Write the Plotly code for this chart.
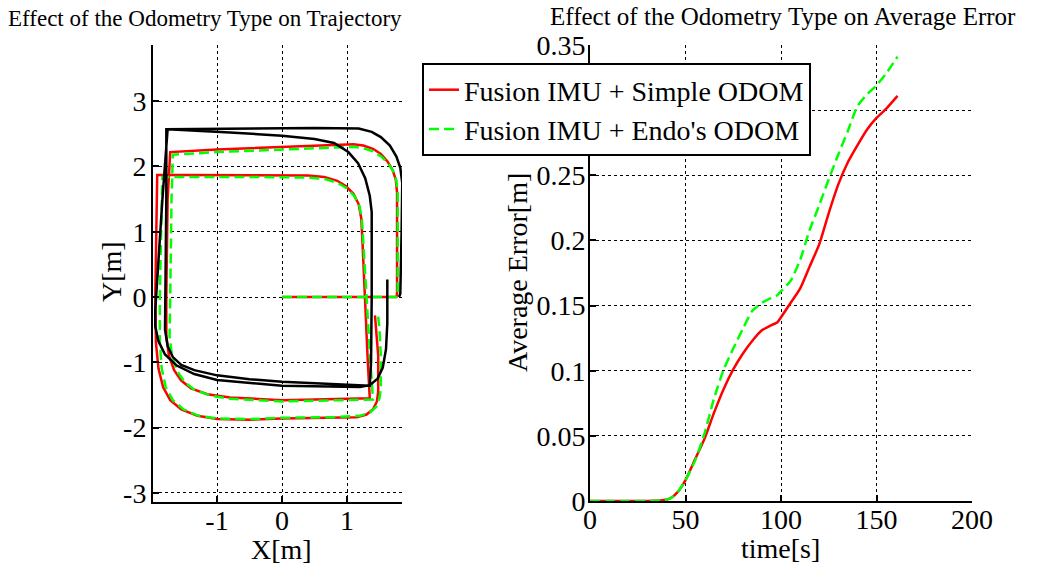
import plotly.graph_objects as go

# ---------------- Left panel: trajectories ----------------
red_traj_x = [0.0, 1.76, 1.77, 1.77, 1.75, 1.70, 1.62, 1.52, 1.40, 1.25, 1.10, 0.0, -1.0, -1.72,
              -1.76, -1.78, -1.78, -1.74, -1.66, -1.55, -1.40, -1.15, -0.8, 0.0, 1.0, 1.35,
              1.32, 1.28, 1.24, 1.22, 1.18, 1.10, 0.98, 0.85, 0.65, 0.4, -0.5, -1.5, -1.92,
              -1.93, -1.95, -1.94, -1.90, -1.83, -1.72, -1.55, -1.30, -1.0, -0.5, 0.0, 0.8, 1.15,
              1.30, 1.40, 1.46, 1.48, 1.48, 1.45, 1.43]
red_traj_y = [0.0, 0.0, 0.05, 1.60, 1.80, 1.95, 2.08, 2.19, 2.27, 2.32, 2.34, 2.30, 2.26, 2.22,
              1.5, 0.0, -0.6, -0.9, -1.12, -1.28, -1.40, -1.49, -1.54, -1.58, -1.56, -1.55,
              -1.0, 0.0, 0.8, 1.2, 1.42, 1.58, 1.70, 1.78, 1.84, 1.86, 1.87, 1.87, 1.87,
              1.0, 0.0, -0.7, -1.1, -1.38, -1.58, -1.72, -1.82, -1.87, -1.88, -1.86, -1.85, -1.84,
              -1.80, -1.72, -1.60, -1.45, -0.9, -0.5, -0.28]

green_traj_x = [0.0, 1.77, 1.78, 1.78, 1.76, 1.71, 1.63, 1.53, 1.40, 1.25, 1.10, 0.0, -1.0, -1.68,
                -1.70, -1.72, -1.73, -1.69, -1.61, -1.50, -1.35, -1.10, -0.8, 0.0, 1.0, 1.40,
                1.36, 1.30, 1.26, 1.23, 1.19, 1.11, 0.99, 0.85, 0.65, 0.4, -0.5, -1.5, -1.84,
                -1.86, -1.88, -1.88, -1.85, -1.79, -1.68, -1.52, -1.28, -1.0, -0.5, 0.0, 0.8, 1.2,
                1.35, 1.45, 1.50, 1.52, 1.52, 1.50, 1.48]
green_traj_y = [0.0, 0.0, 0.05, 1.58, 1.78, 1.93, 2.05, 2.15, 2.23, 2.28, 2.30, 2.26, 2.22, 2.18,
                1.5, 0.0, -0.6, -0.92, -1.14, -1.30, -1.42, -1.51, -1.56, -1.60, -1.58, -1.57,
                -1.0, 0.0, 0.8, 1.18, 1.40, 1.55, 1.67, 1.75, 1.81, 1.83, 1.84, 1.84, 1.84,
                1.0, 0.0, -0.7, -1.1, -1.38, -1.58, -1.72, -1.82, -1.86, -1.87, -1.85, -1.84, -1.82,
                -1.77, -1.68, -1.55, -1.40, -0.9, -0.5, -0.3]

black_traj_x = [1.80, 1.82, 1.84, 1.85, 1.82, 1.76, 1.66, 1.52, 1.38, 1.18, 0.5, -0.5, -1.78,
                -1.78, -1.79, -1.80, -1.76, -1.68, -1.55, -1.35, -1.0, -0.5, 0.0, 0.7, 1.35,
                1.37, 1.38, 1.38, 1.35, 1.28, 1.17, 1.02, 0.80, 0.5, 0.0, -0.8, -1.76,
                -1.84, -1.90, -1.95, -1.95, -1.90, -1.80, -1.62, -1.35, -1.0, 0.0, 0.8, 1.2,
                1.35, 1.47, 1.55, 1.60, 1.62, 1.62]
black_traj_y = [0.0, 0.05, 1.0, 1.75, 1.98, 2.15, 2.32, 2.45, 2.53, 2.58, 2.59, 2.58, 2.57,
                1.5, 0.0, -0.5, -0.75, -0.92, -1.04, -1.12, -1.2, -1.26, -1.3, -1.33, -1.36,
                -1.0, 0.0, 1.3, 1.55, 1.82, 2.05, 2.22, 2.36, 2.42, 2.47, 2.52, 2.57,
                1.5, 0.5, -0.2, -0.45, -0.68, -0.88, -1.05, -1.18, -1.27, -1.36, -1.38, -1.38,
                -1.35, -1.25, -1.08, -0.8, -0.4, 0.27]

traj_xticks = [-1, 0, 1]
traj_xticktext = ["-1", "0", "1"]
traj_yticks = [-3, -2, -1, 0, 1, 2, 3]
traj_yticktext = ["-3", "-2", "-1", "0", "1", "2", "3"]

# ---------------- Right panel: average error ----------------
time_s = [0, 10, 20, 30, 38, 42, 46, 50, 55, 60, 65, 70, 75, 80, 85, 90, 95, 98, 100,
          105, 110, 115, 120, 125, 130, 135, 140, 145, 150, 155, 161]
err_simple = [0, 0, 0, 0, 0.0005, 0.002, 0.007, 0.016, 0.032, 0.048, 0.068, 0.086, 0.101,
              0.113, 0.123, 0.131, 0.135, 0.137, 0.141, 0.152, 0.163, 0.180, 0.197, 0.221,
              0.243, 0.260, 0.273, 0.285, 0.294, 0.301, 0.311]
err_endo = [0, 0, 0, 0, 0.0005, 0.002, 0.007, 0.016, 0.031, 0.052, 0.079, 0.101, 0.117,
            0.132, 0.146, 0.152, 0.156, 0.158, 0.161, 0.169, 0.185, 0.208, 0.227, 0.247,
            0.266, 0.284, 0.303, 0.312, 0.319, 0.328, 0.341]
err_xticks = [0, 50, 100, 150, 200]
err_yticks = [0, 0.05, 0.1, 0.15, 0.2, 0.25, 0.3, 0.35]
err_yticktext = ["0", "0.05", "0.1", "0.15", "0.2", "0.25", "0.3", "0.35"]

FONT = "Liberation Serif"
W, H = 1051, 565

fig = go.Figure()

# left panel traces (red under the dashed green, black on top)
fig.add_trace(go.Scatter(x=red_traj_x, y=red_traj_y, mode="lines", xaxis="x", yaxis="y",
                         line=dict(color="#FF0000", width=2.5), showlegend=False))
fig.add_trace(go.Scatter(x=green_traj_x, y=green_traj_y, mode="lines", xaxis="x", yaxis="y",
                         line=dict(color="#00FF00", width=2.5, dash="10px,5px"), showlegend=False))
fig.add_trace(go.Scatter(x=black_traj_x, y=black_traj_y, mode="lines", xaxis="x", yaxis="y",
                         line=dict(color="#000000", width=2.5), showlegend=False))

# right panel traces
fig.add_trace(go.Scatter(x=time_s, y=err_simple, mode="lines", xaxis="x2", yaxis="y2",
                         name="Fusion IMU + Simple ODOM",
                         line=dict(color="#FF0000", width=2.5, shape="spline", smoothing=0.6)))
fig.add_trace(go.Scatter(x=time_s, y=err_endo, mode="lines", xaxis="x2", yaxis="y2",
                         name="Fusion IMU + Endo's ODOM",
                         line=dict(color="#00FF00", width=2.5, dash="10px,5px",
                                   shape="spline", smoothing=0.6)))

axis_common = dict(showline=True, linecolor="black", linewidth=2, mirror=False,
                   ticks="inside", ticklen=6, tickwidth=1.5, tickcolor="black",
                   showgrid=True, gridcolor="black", griddash="dot", gridwidth=1,
                   zeroline=False, automargin=False,
                   tickfont=dict(family=FONT, size=28, color="black"))

fig.update_layout(
    template="none",
    width=W, height=H,
    margin=dict(l=0, r=0, t=0, b=0, pad=0),
    paper_bgcolor="white", plot_bgcolor="white",
    font=dict(family=FONT, size=28, color="black"),
    xaxis=dict(domain=[153 / W, 402 / W], range=[-1.985, 1.846], tickvals=traj_xticks,
               ticktext=traj_xticktext, anchor="y", ticklabelstandoff=-8, **axis_common),
    yaxis=dict(domain=[1 - 502 / H, 1 - 45 / H], range=[-3.14, 3.86], tickvals=traj_yticks,
               ticktext=traj_yticktext, anchor="x", ticklabelstandoff=-1, **axis_common),
    xaxis2=dict(domain=[590 / W, 972 / W], range=[0, 200], tickvals=err_xticks,
                anchor="y2", ticklabelstandoff=-8, **axis_common),
    yaxis2=dict(domain=[1 - 501 / H, 1 - 45 / H], range=[0, 0.35], tickvals=err_yticks,
                ticktext=err_yticktext, anchor="x2", ticklabelstandoff=-3, **axis_common),
    legend=dict(x=422 / W, y=1 - 63 / H, xanchor="left", yanchor="top",
                bgcolor="white", bordercolor="black", borderwidth=2,
                font=dict(family=FONT, size=28, color="black"), itemwidth=30),
    annotations=[
        dict(text="Effect of the Odometry Type on Trajectory", x=205 / W, y=1 - 19 / H,
             xref="paper", yref="paper", showarrow=False, xanchor="center", yanchor="middle",
             font=dict(family=FONT, size=23)),
        dict(text="Effect of the Odometry Type on Average Error", x=783 / W, y=1 - 17 / H,
             xref="paper", yref="paper", showarrow=False, xanchor="center", yanchor="middle",
             font=dict(family=FONT, size=25)),
        dict(text="X[m]", x=281 / W, y=1 - 549 / H, xref="paper", yref="paper",
             showarrow=False, xanchor="center", yanchor="middle", font=dict(family=FONT, size=28)),
        dict(text="Y[m]", x=111 / W, y=1 - 272 / H, xref="paper", yref="paper", textangle=-90,
             showarrow=False, xanchor="center", yanchor="middle", font=dict(family=FONT, size=28)),
        dict(text="time[s]", x=780 / W, y=1 - 548 / H, xref="paper", yref="paper",
             showarrow=False, xanchor="center", yanchor="middle", font=dict(family=FONT, size=28)),
        dict(text="Average Error[m]", x=517 / W, y=1 - 273 / H, xref="paper", yref="paper",
             textangle=-90, showarrow=False, xanchor="center", yanchor="middle",
             font=dict(family=FONT, size=28)),
    ],
)

fig.write_html("out.html")
